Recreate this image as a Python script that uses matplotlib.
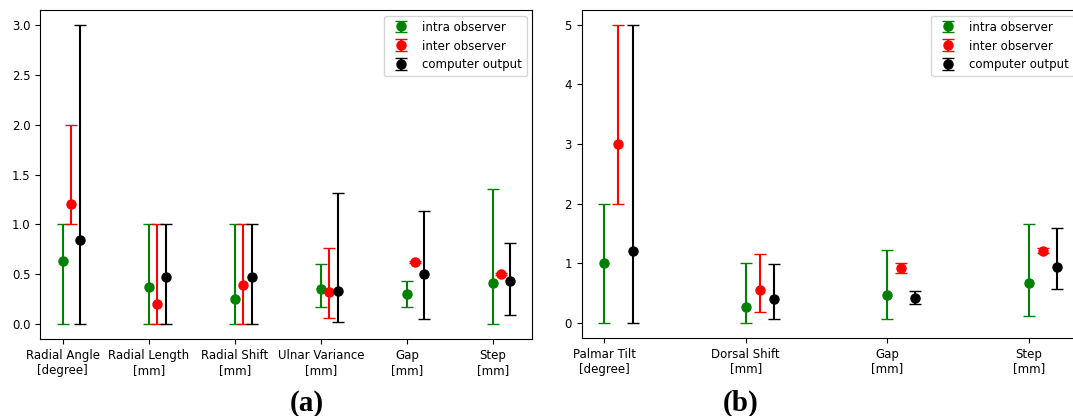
import numpy as np
import matplotlib
matplotlib.use('Agg')
import matplotlib.pyplot as plt

# ---- panel (a) data: mean with min / max ----
cats_a = ['Radial Angle\n[degree]', 'Radial Length\n[mm]', 'Radial Shift\n[mm]',
          'Ulnar Variance\n[mm]', 'Gap\n[mm]', 'Step\n[mm]']
intra_a = [0.63, 0.375, 0.25, 0.355, 0.305, 0.41]
intra_a_lo = [0.0, 0.0, 0.0, 0.17, 0.17, 0.0]
intra_a_hi = [1.0, 1.0, 1.0, 0.6, 0.43, 1.355]
inter_a = [1.2, 0.2, 0.39, 0.325, 0.625, 0.5]
inter_a_lo = [1.0, 0.0, 0.0, 0.057, 0.615, 0.49]
inter_a_hi = [2.0, 1.0, 1.0, 0.76, 0.635, 0.51]
comp_a = [0.84, 0.47, 0.47, 0.335, 0.5, 0.43]
comp_a_lo = [0.0, 0.0, 0.0, 0.017, 0.047, 0.087]
comp_a_hi = [3.0, 1.0, 1.0, 1.314, 1.13, 0.81]

# ---- panel (b) data ----
cats_b = ['Palmar Tilt\n[degree]', 'Dorsal Shift\n[mm]', 'Gap\n[mm]', 'Step\n[mm]']
intra_b = [1.0, 0.27, 0.465, 0.672]
intra_b_lo = [0.0, 0.0, 0.06, 0.112]
intra_b_hi = [2.0, 1.01, 1.226, 1.663]
inter_b = [3.0, 0.56, 0.918, 1.21]
inter_b_lo = [2.0, 0.19, 0.84, 1.165]
inter_b_hi = [5.0, 1.16, 1.013, 1.26]
comp_b = [1.2, 0.40, 0.414, 0.935]
comp_b_lo = [0.0, 0.06, 0.31, 0.565]
comp_b_hi = [5.0, 0.98, 0.53, 1.59]

plt.rcParams.update({'font.size': 8.5})


def draw_panel(ax, cats, series):
    x = np.arange(len(cats))
    for k, (mean, lo, hi, col, lab) in enumerate(series):
        mean = np.array(mean)
        yerr = [mean - np.array(lo), np.array(hi) - mean]
        ax.errorbar(x + 0.1 * k, mean, yerr=yerr, fmt='o', color=col,
                    capsize=4.5, markersize=6.5, label=lab)
    ax.set_xticks(x)
    ax.set_xticklabels(cats)
    ax.legend(loc='upper right')


fig = plt.figure(figsize=(10.73, 4.16), dpi=100)

ax1 = fig.add_axes([0.0377, 0.185, 0.4585, 0.791])
draw_panel(ax1, cats_a, [
    (intra_a, intra_a_lo, intra_a_hi, 'green', 'intra observer'),
    (inter_a, inter_a_lo, inter_a_hi, 'red', 'inter observer'),
    (comp_a, comp_a_lo, comp_a_hi, 'black', 'computer output'),
])

ax2 = fig.add_axes([0.5421, 0.188, 0.464, 0.788])
draw_panel(ax2, cats_b, [
    (intra_b, intra_b_lo, intra_b_hi, 'green', 'intra observer'),
    (inter_b, inter_b_lo, inter_b_hi, 'red', 'inter observer'),
    (comp_b, comp_b_lo, comp_b_hi, 'black', 'computer output'),
])

fig.text(0.286, 0.012, '(a)', family='Liberation Serif', weight='bold',
         size=21, ha='center')
fig.text(0.69, 0.012, '(b)', family='Liberation Serif', weight='bold',
         size=21, ha='center')

plt.savefig('out.png', dpi=100)
